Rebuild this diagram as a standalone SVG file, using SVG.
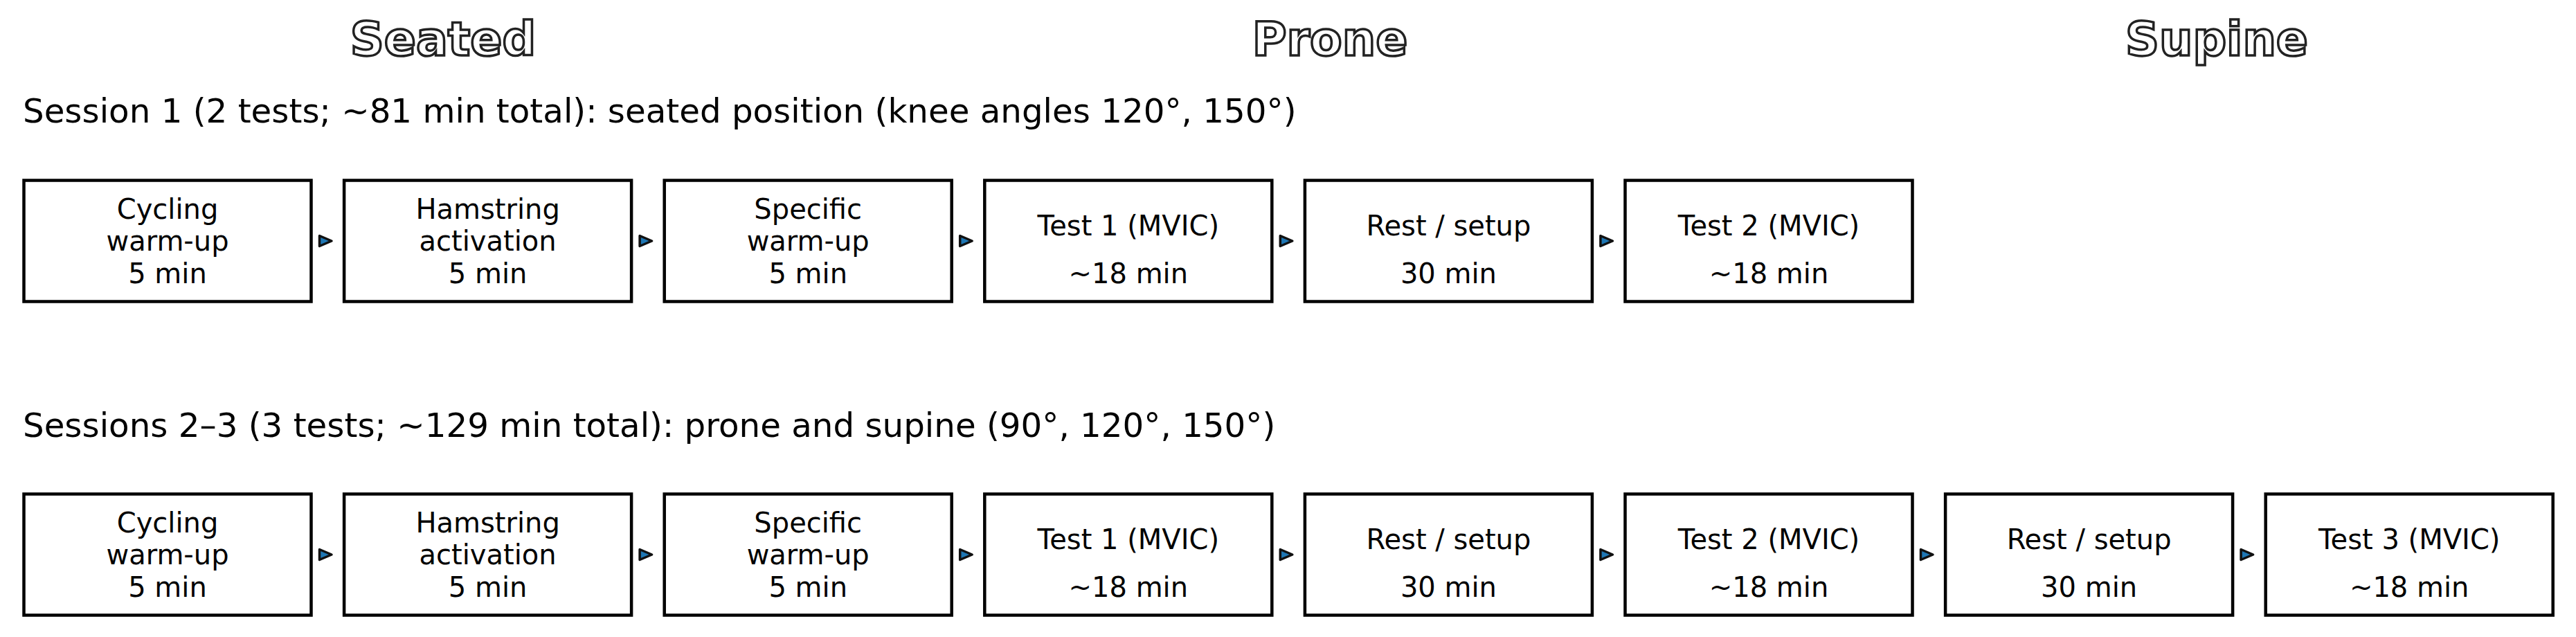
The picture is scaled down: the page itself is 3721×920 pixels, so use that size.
<svg xmlns="http://www.w3.org/2000/svg" width="3721" height="920" viewBox="0 0 3721 920">
<style>
text{font-family:"DejaVu Sans","Liberation Sans",sans-serif;fill:#000}
.hdr{font-size:68px;font-weight:bold;fill:#fff;stroke:#222;stroke-width:3.5;text-anchor:middle}
.ses{font-size:48.3px}
.box{fill:#fff;stroke:#000;stroke-width:4.5}
.lbl{font-size:40px;text-anchor:middle}
.arr{fill:#1f77b4;stroke:#111;stroke-width:3.5;stroke-linejoin:round}
</style>
<rect width="3721" height="920" fill="#fff"/>
<g id="headers">
<text class="hdr" x="640" y="80">Seated</text>
<text class="hdr" x="1921" y="80">Prone</text>
<text class="hdr" x="3202" y="80">Supine</text>
</g>
<g id="session-titles">
<text class="ses" x="33" y="176.5">Session 1 (2 tests; ~81 min total): seated position (knee angles 120°, 150°)</text>
<text class="ses" x="33" y="630.5">Sessions 2–3 (3 tests; ~129 min total): prone and supine (90°, 120°, 150°)</text>
</g>
<g id="row1">
<g id="s1-cycling"><rect class="box" x="34.5" y="260.5" width="415" height="175"/><text class="lbl" x="242" y="316">Cycling</text><text class="lbl" x="242" y="362">warm-up</text><text class="lbl" x="242" y="408.5">5 min</text></g>
<g id="s1-hamstring"><rect class="box" x="497.1" y="260.5" width="415" height="175"/><text class="lbl" x="704.6" y="316">Hamstring</text><text class="lbl" x="704.6" y="362">activation</text><text class="lbl" x="704.6" y="408.5">5 min</text></g>
<g id="s1-specific"><rect class="box" x="959.7" y="260.5" width="415" height="175"/><text class="lbl" x="1167.2" y="316">Specific</text><text class="lbl" x="1167.2" y="362">warm-up</text><text class="lbl" x="1167.2" y="408.5">5 min</text></g>
<g id="s1-test1"><rect class="box" x="1422.3" y="260.5" width="415" height="175"/><text class="lbl" x="1629.8" y="339.5">Test 1 (MVIC)</text><text class="lbl" x="1629.8" y="408.5">~18 min</text></g>
<g id="s1-rest1"><rect class="box" x="1884.9" y="260.5" width="415" height="175"/><text class="lbl" x="2092.4" y="339.5">Rest / setup</text><text class="lbl" x="2092.4" y="408.5">30 min</text></g>
<g id="s1-test2"><rect class="box" x="2347.5" y="260.5" width="415" height="175"/><text class="lbl" x="2555" y="339.5">Test 2 (MVIC)</text><text class="lbl" x="2555" y="408.5">~18 min</text></g>
</g>
<g id="row2">
<g id="s2-cycling"><rect class="box" x="34.5" y="713.5" width="415" height="175"/><text class="lbl" x="242" y="769">Cycling</text><text class="lbl" x="242" y="815">warm-up</text><text class="lbl" x="242" y="861.5">5 min</text></g>
<g id="s2-hamstring"><rect class="box" x="497.1" y="713.5" width="415" height="175"/><text class="lbl" x="704.6" y="769">Hamstring</text><text class="lbl" x="704.6" y="815">activation</text><text class="lbl" x="704.6" y="861.5">5 min</text></g>
<g id="s2-specific"><rect class="box" x="959.7" y="713.5" width="415" height="175"/><text class="lbl" x="1167.2" y="769">Specific</text><text class="lbl" x="1167.2" y="815">warm-up</text><text class="lbl" x="1167.2" y="861.5">5 min</text></g>
<g id="s2-test1"><rect class="box" x="1422.3" y="713.5" width="415" height="175"/><text class="lbl" x="1629.8" y="792.5">Test 1 (MVIC)</text><text class="lbl" x="1629.8" y="861.5">~18 min</text></g>
<g id="s2-rest1"><rect class="box" x="1884.9" y="713.5" width="415" height="175"/><text class="lbl" x="2092.4" y="792.5">Rest / setup</text><text class="lbl" x="2092.4" y="861.5">30 min</text></g>
<g id="s2-test2"><rect class="box" x="2347.5" y="713.5" width="415" height="175"/><text class="lbl" x="2555" y="792.5">Test 2 (MVIC)</text><text class="lbl" x="2555" y="861.5">~18 min</text></g>
<g id="s2-rest2"><rect class="box" x="2810.1" y="713.5" width="415" height="175"/><text class="lbl" x="3017.6" y="792.5">Rest / setup</text><text class="lbl" x="3017.6" y="861.5">30 min</text></g>
<g id="s2-test3"><rect class="box" x="3272.7" y="713.5" width="415" height="175"/><text class="lbl" x="3480.2" y="792.5">Test 3 (MVIC)</text><text class="lbl" x="3480.2" y="861.5">~18 min</text></g>
</g>
<g id="connectors">
<path class="arr" d="M461.5,340.5 L479,348 L461.5,355.5 Z"/>
<path class="arr" d="M924.1,340.5 L941.6,348 L924.1,355.5 Z"/>
<path class="arr" d="M1386.7,340.5 L1404.2,348 L1386.7,355.5 Z"/>
<path class="arr" d="M1849.3,340.5 L1866.8,348 L1849.3,355.5 Z"/>
<path class="arr" d="M2311.9,340.5 L2329.4,348 L2311.9,355.5 Z"/>
<path class="arr" d="M461.5,793.5 L479,801 L461.5,808.5 Z"/>
<path class="arr" d="M924.1,793.5 L941.6,801 L924.1,808.5 Z"/>
<path class="arr" d="M1386.7,793.5 L1404.2,801 L1386.7,808.5 Z"/>
<path class="arr" d="M1849.3,793.5 L1866.8,801 L1849.3,808.5 Z"/>
<path class="arr" d="M2311.9,793.5 L2329.4,801 L2311.9,808.5 Z"/>
<path class="arr" d="M2774.5,793.5 L2792,801 L2774.5,808.5 Z"/>
<path class="arr" d="M3237.1,793.5 L3254.6,801 L3237.1,808.5 Z"/>
</g>
</svg>
